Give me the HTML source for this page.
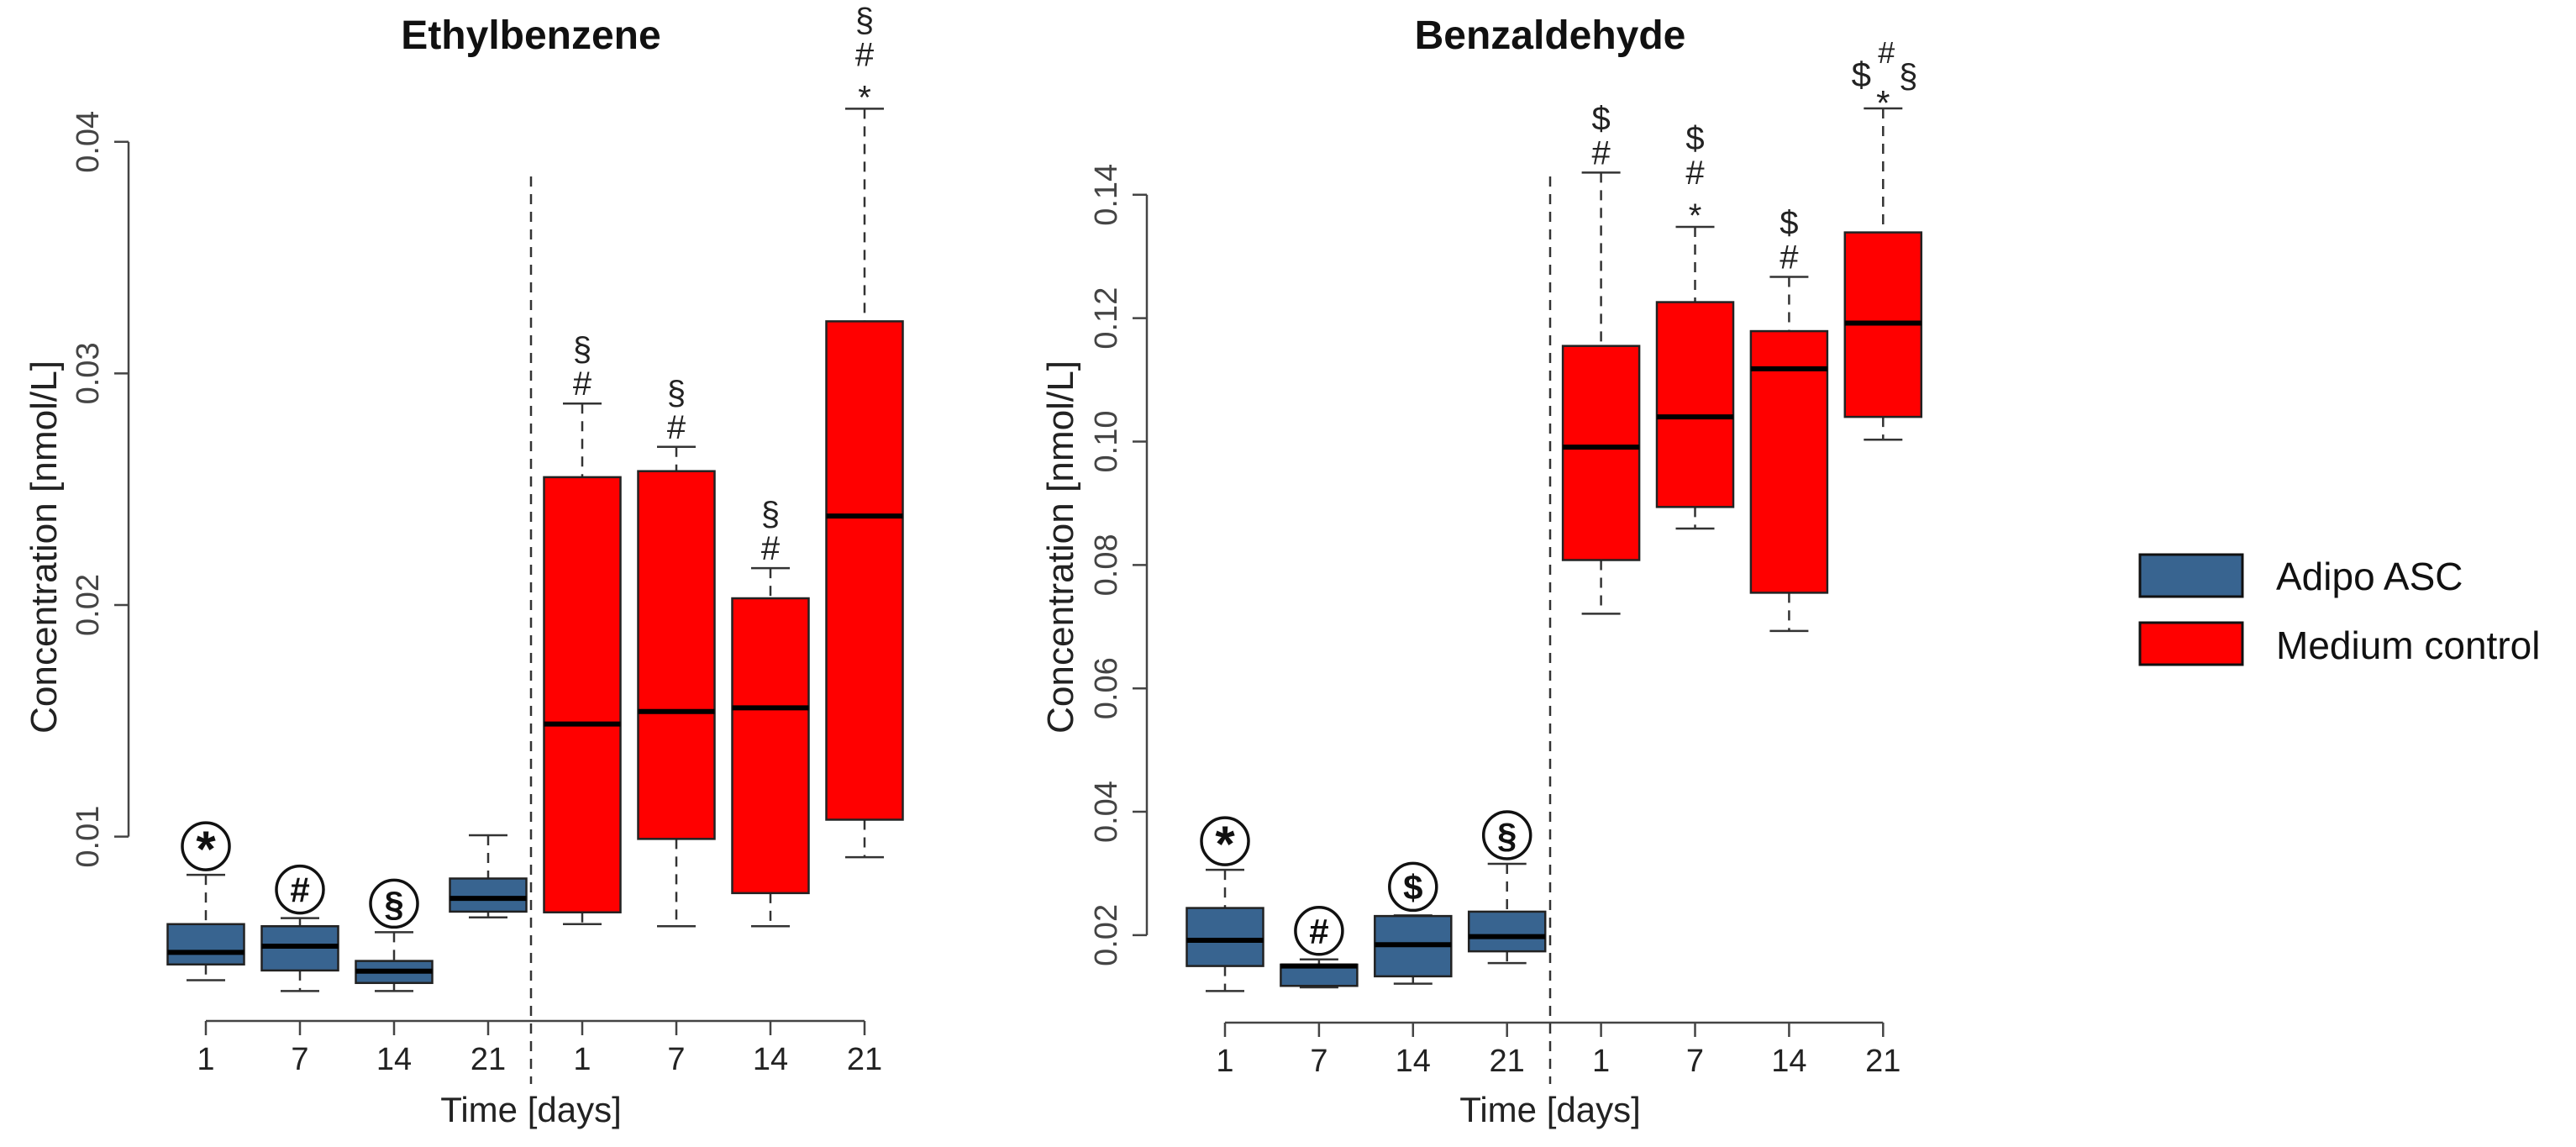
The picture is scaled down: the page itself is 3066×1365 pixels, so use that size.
<!DOCTYPE html>
<html><head><meta charset="utf-8"><style>
html,body{margin:0;padding:0;background:#fff;}
svg{display:block;font-family:"Liberation Sans",Arial,sans-serif;}
</style></head><body>
<svg id="fig" width="3066" height="1365" viewBox="0 0 3066 1365" xmlns="http://www.w3.org/2000/svg">
<g id="legend">
  <rect x="2547" y="660" width="122" height="50" fill="#386490" stroke="#111" stroke-width="3"/>
  <text x="2709" y="702" font-family="'Liberation Sans',sans-serif" font-size="46" fill="#111">Adipo ASC</text>
  <rect x="2547" y="741" width="122" height="50" fill="#ff0000" stroke="#111" stroke-width="3"/>
  <text x="2709" y="784" font-family="'Liberation Sans',sans-serif" font-size="46" fill="#111">Medium control</text>
</g>
</svg>
<script>
// ---- Ethylbenzene data ----
const ethCategories = ["1","7","14","21","1","7","14","21"];
const ethLow  = [0.0038,0.00333,0.00333,0.00651,0.00622,0.00613,0.00613,0.00911];
const ethQ1   = [0.00448,0.00422,0.00368,0.00676,0.00673,0.0099,0.00756,0.01073];
const ethMed  = [0.0050,0.00527,0.00419,0.00733,0.01486,0.0154,0.01556,0.02384];
const ethQ3   = [0.00622,0.00613,0.00463,0.00819,0.02552,0.02578,0.02029,0.03225];
const ethHigh = [0.00835,0.00648,0.00587,0.01006,0.0287,0.02683,0.02159,0.04143];
const ethTicks = [0.01,0.02,0.03,0.04];
const ethTickLabels = ["0.01","0.02","0.03","0.04"];
const ethCircled = ["*","#","§",""];
const ethStacks = [[],[],[],[],["#","§"],["#","§"],["#","§"],["*","#","§"]];
// ---- Benzaldehyde data ----
const benCategories = ["1","7","14","21","1","7","14","21"];
const benLow  = [0.01094,0.01154,0.01213,0.01547,0.0721,0.0859,0.0693,0.1003];
const benQ1   = [0.015,0.01178,0.01333,0.01738,0.0808,0.0894,0.0755,0.104];
const benMed  = [0.01917,0.0150,0.01845,0.01976,0.0991,0.104,0.1118,0.1192];
const benQ3   = [0.0244,0.01523,0.0231,0.02381,0.1155,0.1226,0.1179,0.1339];
const benHigh = [0.0306,0.01607,0.0232,0.03156,0.1436,0.1348,0.1267,0.154];
const benTicks = [0.02,0.04,0.06,0.08,0.10,0.12,0.14];
const benTickLabels = ["0.02","0.04","0.06","0.08","0.10","0.12","0.14"];
const benCircled = ["*","#","$","§"];
const benStacks = [[],[],[],[],["#","$"],["*","#","$"],["#","$"],["cluster"]];
const groupColors = ["#386490","#ff0000"];

const NS="http://www.w3.org/2000/svg";
const svg=document.getElementById('fig');
function mk(tag,attrs,parent){const e=document.createElementNS(NS,tag);for(const k in attrs)e.setAttribute(k,attrs[k]);(parent||svg).appendChild(e);return e;}

function drawPanel(p){
  const g=mk('g',{});
  
  
  const y=v=>p.y0-(v-p.v0)*p.py;
  const x=i=>p.x0+i*p.dx;
  const t=mk('text',{x:p.cx,y:58,'text-anchor':'middle','font-size':48,'font-weight':'bold',fill:'#111'},g);
  t.textContent=p.title;
  
  
  const ya=mk('line',{x1:p.ax,x2:p.ax,y1:y(p.ticks[0]),y2:y(p.ticks[p.ticks.length-1]),stroke:'#444','stroke-width':2.5},g);
  
  
  p.ticks.forEach((v,i)=>{
    mk('line',{x1:p.ax-17,x2:p.ax,y1:y(v),y2:y(v),stroke:'#444','stroke-width':2.5},g);
    const tl=mk('text',{x:0,y:0,transform:`translate(${p.ax-36},${y(v)}) rotate(-90)`,'text-anchor':'middle','font-size':38,fill:'#444',textLength:74,lengthAdjust:'spacingAndGlyphs'},g);
    tl.textContent=p.tickLabels[i];
    
    
  });
  const yl=mk('text',{x:0,y:0,transform:`translate(${p.ylx},651) rotate(-90)`,'text-anchor':'middle','font-size':44,fill:'#222',textLength:444,lengthAdjust:'spacingAndGlyphs'},g);
  yl.textContent='Concentration [nmol/L]';
  
  
  const xa=mk('line',{x1:x(0),x2:x(7),y1:p.xay,y2:p.xay,stroke:'#444','stroke-width':2.5},g);
  
  
  p.cats.forEach((c,i)=>{
    mk('line',{x1:x(i),x2:x(i),y1:p.xay,y2:p.xay+17,stroke:'#444','stroke-width':2.5},g);
    const tl=mk('text',{x:x(i),y:p.xay+58,'text-anchor':'middle','font-size':38,fill:'#222'},g);
    tl.textContent=c;
    
    
  });
  const xl=mk('text',{x:p.cx,y:1335,'text-anchor':'middle','font-size':42,fill:'#222'},g);
  xl.textContent='Time [days]';
  
  
  const dv=mk('line',{x1:p.cx,x2:p.cx,y1:210,y2:1290,stroke:'#333','stroke-width':2.5,'stroke-dasharray':'12 9'},g);
  
  
  const bw=91, cw=46;
  p.cats.forEach((c,i)=>{
    const bg=mk('g',{},g);
    
    
    const cx=x(i);
    mk('line',{x1:cx,x2:cx,y1:y(p.hi[i]),y2:y(p.q3[i]),stroke:'#333','stroke-width':2.5,'stroke-dasharray':'12 9'},bg);
    mk('line',{x1:cx,x2:cx,y1:y(p.q1[i]),y2:y(p.lo[i]),stroke:'#333','stroke-width':2.5,'stroke-dasharray':'12 9'},bg);
    mk('line',{x1:cx-cw/2,x2:cx+cw/2,y1:y(p.hi[i]),y2:y(p.hi[i]),stroke:'#333','stroke-width':2.5},bg);
    mk('line',{x1:cx-cw/2,x2:cx+cw/2,y1:y(p.lo[i]),y2:y(p.lo[i]),stroke:'#333','stroke-width':2.5},bg);
    mk('rect',{x:cx-bw/2,y:y(p.q3[i]),width:bw,height:y(p.q1[i])-y(p.q3[i]),fill:groupColors[i<4?0:1],stroke:'#222','stroke-width':2.5},bg);
    mk('line',{x1:cx-bw/2,x2:cx+bw/2,y1:y(p.med[i]),y2:y(p.med[i]),stroke:'#000','stroke-width':6},bg);
    const top=y(p.hi[i]);
    if(i<4 && p.circ[i]){
      const a=mk('g',{},bg);
      
      
      mk('circle',{cx:cx,cy:top-34,r:28,fill:'#fff',stroke:'#111','stroke-width':3.5},a);
      const s=mk('text',{x:cx,y:top-34+(p.circ[i]==='*'?24:15),'text-anchor':'middle','font-size':p.circ[i]==='*'?60:42,'font-weight':'bold',fill:'#111'},a);
      s.textContent=p.circ[i];
    }
    const st=p.stacks[i];
    if(st.length && st[0]==='cluster'){
      const pos=[["*",0,-14,42],["$",-26,-40,42],["#",4,-68,36],["§",30,-39,40]];
      pos.forEach(q=>{
        const s=mk('text',{x:cx+q[1],y:top+q[2]+(q[0]==='*'?22:14),'text-anchor':'middle','font-size':q[3],fill:'#222'},bg);
        s.textContent=q[0];
        
        
      });
    } else {
      st.forEach((sym,k)=>{
        const cyy=top-24-k*41;
        const s=mk('text',{x:cx,y:cyy+(sym==='*'?24:14),'text-anchor':'middle','font-size':40,fill:'#222'},bg);
        s.textContent=sym;
        
        
      });
    }
  });
}

drawPanel({name:'ethylbenzene-chart',title:'Ethylbenzene',cats:ethCategories,lo:ethLow,q1:ethQ1,med:ethMed,q3:ethQ3,hi:ethHigh,
  ticks:ethTicks,tickLabels:ethTickLabels,circ:ethCircled,stacks:ethStacks,
  x0:245,dx:112,ax:153,y0:995.6,v0:0.01,py:27560,xay:1215,cx:632,ylx:67});
drawPanel({name:'benzaldehyde-chart',title:'Benzaldehyde',cats:benCategories,lo:benLow,q1:benQ1,med:benMed,q3:benQ3,hi:benHigh,
  ticks:benTicks,tickLabels:benTickLabels,circ:benCircled,stacks:benStacks,
  x0:1458,dx:111.9,ax:1365,y0:1112.9,v0:0.02,py:7342.5,xay:1217,cx:1845,ylx:1277});
</script>
</body></html>
